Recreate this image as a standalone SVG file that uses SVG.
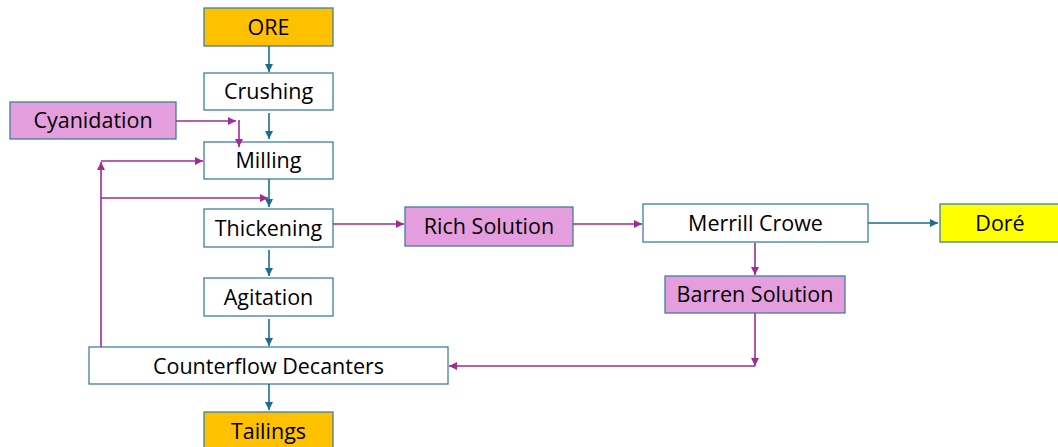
<svg xmlns="http://www.w3.org/2000/svg" width="1058" height="447" viewBox="0 0 1058 447">
<style>
.box{stroke:#3E7FA2;stroke-width:1.3}
.w{fill:#FFFFFF}
.o{fill:#FFC000}
.p{fill:#E59EDD}
.y{fill:#FFFF00}
text{font-family:"Open Sans","Liberation Sans",Arial,sans-serif;font-size:21.5px;fill:#000;text-anchor:middle;dominant-baseline:central}
.cb{stroke:#1B6C8E;stroke-width:1.6;fill:none}
.cp{stroke:#A02B93;stroke-width:1.6;fill:none}
</style>
<defs>
<marker id="ab" markerUnits="userSpaceOnUse" markerWidth="10" markerHeight="10" refX="8" refY="4" orient="auto"><path d="M0,0 L8,4 L0,8 z" fill="#1B6C8E"/></marker>
<marker id="ap" markerUnits="userSpaceOnUse" markerWidth="10" markerHeight="10" refX="8" refY="4" orient="auto"><path d="M0,0 L8,4 L0,8 z" fill="#A02B93"/></marker>
</defs>
<rect width="1058" height="447" fill="#FFFFFF"/>
<g id="ore"><rect class="box o" x="204" y="8" width="129" height="38"/><text x="268.5" y="26">ORE</text></g>
<g id="crushing"><rect class="box w" x="204" y="73" width="129" height="37"/><text x="268.5" y="90.5">Crushing</text></g>
<g id="cyanidation"><rect class="box p" x="10" y="102" width="166" height="37"/><text x="93" y="119.5">Cyanidation</text></g>
<g id="milling"><rect class="box w" x="204" y="142" width="129" height="37"/><text x="268.5" y="159.5">Milling</text></g>
<g id="thickening"><rect class="box w" x="204" y="209" width="129" height="38"/><text x="268.5" y="227">Thickening</text></g>
<g id="agitation"><rect class="box w" x="204" y="278" width="129" height="38"/><text x="268.5" y="296">Agitation</text></g>
<g id="counterflow"><rect class="box w" x="89" y="347" width="359" height="37"/><text x="268.5" y="365">Counterflow Decanters</text></g>
<g id="tailings"><rect class="box o" x="204" y="412" width="129" height="38"/><text x="268.5" y="430">Tailings</text></g>
<g id="rich"><rect class="box p" x="405" y="207" width="168" height="39"/><text x="489" y="225.5">Rich Solution</text></g>
<g id="merrill"><rect class="box w" x="643" y="204" width="225" height="38"/><text x="755.5" y="222">Merrill Crowe</text></g>
<g id="barren"><rect class="box p" x="665" y="276" width="180" height="37"/><text x="755" y="293.5">Barren Solution</text></g>
<g id="dore"><rect class="box y" x="940" y="204" width="120" height="38"/><text x="1000" y="222">Doré</text></g>
<g id="connectors">
<line class="cb" x1="269" y1="46" x2="269" y2="72" marker-end="url(#ab)"/>
<line class="cb" x1="269" y1="113" x2="269" y2="139" marker-end="url(#ab)"/>
<line class="cb" x1="269" y1="179" x2="269" y2="207" marker-end="url(#ab)"/>
<line class="cb" x1="269" y1="250" x2="269" y2="276" marker-end="url(#ab)"/>
<line class="cb" x1="269" y1="319" x2="269" y2="346" marker-end="url(#ab)"/>
<line class="cb" x1="269" y1="384" x2="269" y2="410" marker-end="url(#ab)"/>
<line class="cb" x1="868" y1="223" x2="938" y2="223" marker-end="url(#ab)"/>
<line class="cp" x1="176" y1="121" x2="236" y2="121" marker-end="url(#ap)"/>
<line class="cp" x1="239" y1="120" x2="239" y2="147" marker-end="url(#ap)"/>
<polyline class="cp" points="101,347 101,162" marker-end="url(#ap)"/>
<line class="cp" x1="101" y1="161" x2="203" y2="161" marker-end="url(#ap)"/>
<line class="cp" x1="101" y1="198" x2="268" y2="198" marker-end="url(#ap)"/>
<line class="cp" x1="333" y1="224" x2="404" y2="224" marker-end="url(#ap)"/>
<line class="cp" x1="573" y1="224" x2="642" y2="224" marker-end="url(#ap)"/>
<line class="cp" x1="755" y1="243" x2="755" y2="275" marker-end="url(#ap)"/>
<line class="cp" x1="755" y1="313" x2="755" y2="366" marker-end="url(#ap)"/>
<line class="cp" x1="755" y1="366" x2="449" y2="366" marker-end="url(#ap)"/>
</g>
</svg>
